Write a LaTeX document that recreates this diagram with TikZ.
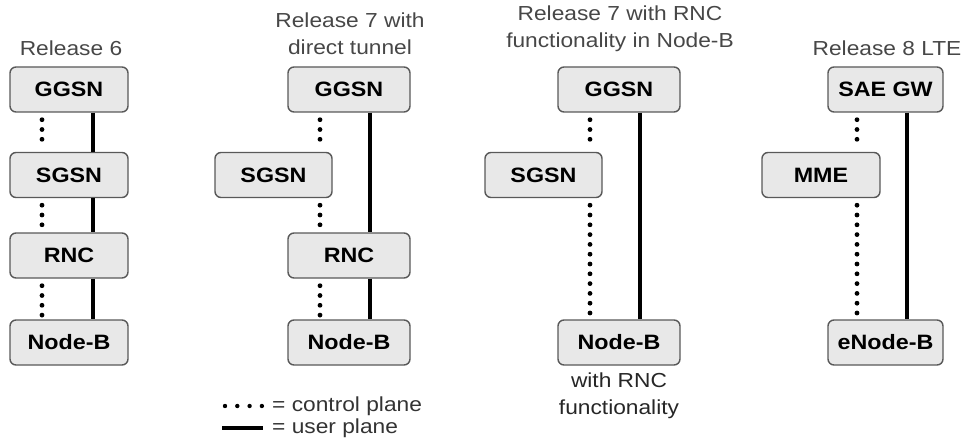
\documentclass[tikz,border=0pt]{standalone}
\usepackage{fontspec}
\setmainfont[FakeStretch=1.12]{Liberation Sans}
\begin{document}
\begin{tikzpicture}[x=1pt,y=-1pt,
  elem/.style={draw=black!65, line width=1.4pt, fill=black!9, rounded corners=6pt,
    minimum height=45pt, inner sep=0pt, font=\fontsize{20.8}{22}\selectfont\bfseries},
  cp/.style={line width=4.8pt, line cap=round, dash pattern=on 0pt off 9.8pt},
  up/.style={line width=3.4pt},
  ttl/.style={font=\fontsize{20.3}{27}\selectfont, text=black!72, align=center, inner sep=0pt}]
\useasboundingbox (0,0) rectangle (964,441);

% Release 6
\node[ttl] (t1) at (71,48) {Release 6};
\node[elem, minimum width=118pt] (g1) at (69,89.5) {GGSN};
\node[elem, minimum width=118pt] (s1) at (69,175) {SGSN};
\node[elem, minimum width=118pt] (r1) at (69,255.5) {RNC};
\node[elem, minimum width=118pt] (n1) at (69,342.5) {Node-B};
\draw[cp] ([yshift=-7pt]g1.south -| 42,0) -- ([yshift=4pt]s1.north -| 42,0);
\draw[cp] ([yshift=-7pt]s1.south -| 42,0) -- ([yshift=4pt]r1.north -| 42,0);
\draw[cp] ([yshift=-7pt]r1.south -| 42,0) -- ([yshift=4pt]n1.north -| 42,0);
\draw[up] (g1.south -| 93,0) -- (s1.north -| 93,0);
\draw[up] (s1.south -| 93,0) -- (r1.north -| 93,0);
\draw[up] (r1.south -| 93,0) -- (n1.north -| 93,0);

% Release 7 with direct tunnel
\node[ttl] (t2) at (350,34) {Release 7 with\\direct tunnel};
\node[elem, minimum width=122pt] (g2) at (349,89.5) {GGSN};
\node[elem, minimum width=117pt] (s2) at (273.5,175) {SGSN};
\node[elem, minimum width=122pt] (r2) at (349,255.5) {RNC};
\node[elem, minimum width=122pt] (n2) at (349,342.5) {Node-B};
\draw[cp] ([yshift=-7pt]g2.south -| 320,0) -- ([yshift=4pt]s2.north -| 320,0);
\draw[cp] ([yshift=-7pt]s2.south -| 320,0) -- ([yshift=4pt]r2.north -| 320,0);
\draw[cp] ([yshift=-7pt]r2.south -| 320,0) -- ([yshift=4pt]n2.north -| 320,0);
\draw[up] (g2.south -| 370,0) -- (r2.north -| 370,0);
\draw[up] (r2.south -| 370,0) -- (n2.north -| 370,0);

% Release 7 with RNC functionality in Node-B
\node[ttl] (t3) at (620,29) {Release 7 with RNC\\functionality in Node-B};
\node[elem, minimum width=122pt] (g3) at (619,89.5) {GGSN};
\node[elem, minimum width=117pt] (s3) at (543.5,175) {SGSN};
\node[elem, minimum width=122pt] (n3) at (619,342.5) {Node-B};
\node[ttl, text=black!85] (b3) at (619,396) {with RNC\\functionality};
\draw[cp] ([yshift=-7pt]g3.south -| 590,0) -- ([yshift=4pt]s3.north -| 590,0);
\draw[cp] ([yshift=-7pt]s3.south -| 590,0) -- ([yshift=4pt]n3.north -| 590,0);
\draw[up] (g3.south -| 640,0) -- (n3.north -| 640,0);

% Release 8 LTE
\node[ttl] (t4) at (887,48) {Release 8 LTE};
\node[elem, minimum width=115pt] (g4) at (885.5,89.5) {SAE GW};
\node[elem, minimum width=118pt] (m4) at (821,175) {MME};
\node[elem, minimum width=115pt] (n4) at (885.5,342.5) {eNode-B};
\draw[cp] ([yshift=-7pt]g4.south -| 857,0) -- ([yshift=4pt]m4.north -| 857,0);
\draw[cp] ([yshift=-7pt]m4.south -| 857,0) -- ([yshift=4pt]n4.north -| 857,0);
\draw[up] (g4.south -| 907,0) -- (n4.north -| 907,0);

% Legend
\coordinate (ca) at (225,406);
\coordinate (cb) at (262,406);
\coordinate (ua) at (222,428);
\coordinate (ub) at (263,428);
\draw[cp, line width=4.4pt, dash pattern=on 0pt off 12.3pt] (ca) -- (cb);
\draw[up, line width=3.8pt] (ua) -- (ub);
\node[ttl, text=black!80, anchor=west] (lc) at (272,406) {= control plane};
\node[ttl, text=black!80, anchor=west] (lu) at (272,428) {= user plane};
\end{tikzpicture}
\end{document}
